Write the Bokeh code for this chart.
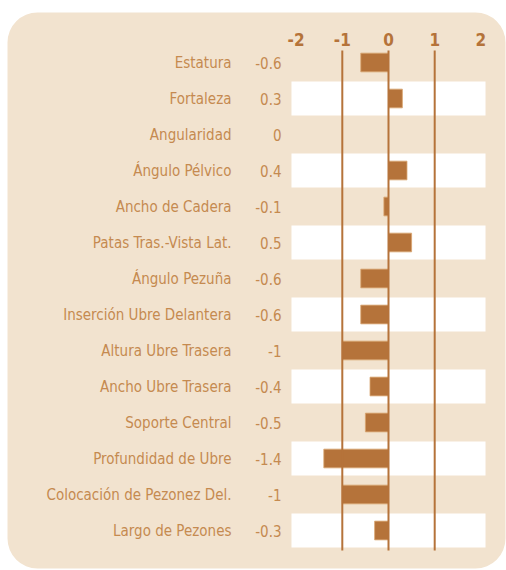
from bokeh.plotting import figure
from bokeh.models import Range1d, BoxAnnotation, ColumnDataSource
from bokeh.core.properties import value
from bokeh.embed import file_html
from bokeh.resources import INLINE

categories = ["Estatura", "Fortaleza", "Angularidad", "Ángulo Pélvico", "Ancho de Cadera",
              "Patas Tras.-Vista Lat.", "Ángulo Pezuña", "Inserción Ubre Delantera",
              "Altura Ubre Trasera", "Ancho Ubre Trasera", "Soporte Central",
              "Profundidad de Ubre", "Colocación de Pezonez Del.", "Largo de Pezones"]
values = [-0.6, 0.3, 0, 0.4, -0.1, 0.5, -0.6, -0.6, -1, -0.4, -0.5, -1.4, -1, -0.3]
value_labels = ["-0.6", "0.3", "0", "0.4", "-0.1", "0.5", "-0.6", "-0.6", "-1", "-0.4", "-0.5", "-1.4", "-1", "-0.3"]
ticks = [-2, -1, 0, 1, 2]
tick_labels = ["-2", "-1", "0", "1", "2"]
grid_lines = [-1, 0, 1]

BAR = "#B5733A"
TXT = "#C58A50"
BG = "#F2E3CF"
FONT = "DejaVu Sans Condensed, Roboto, sans-serif"

W, H = 506, 570
PX_UNIT = 46.2
X0 = 388.0
ROW0, PITCH = 62.0, 36.0

def xd(px):
    return (px - X0) / PX_UNIT

def yd(py):
    return (py - ROW0) / PITCH

p = figure(width=W, height=H, output_backend="svg", toolbar_location=None,
           x_range=Range1d(xd(0), xd(W)), y_range=Range1d(yd(H), yd(0)),
           min_border=0, outline_line_color=None,
           background_fill_color="white", border_fill_color="white")
p.axis.visible = False
p.grid.visible = False

panel = BoxAnnotation(left=xd(7), right=xd(505), top=yd(12), bottom=yd(568),
                      fill_color=BG, fill_alpha=1, line_color=None, border_radius=30,
                      level="underlay")
p.add_layout(panel)

n = len(categories)
rows = list(range(n))
stripe_rows = [i for i in rows if i % 2 == 1]
p.hbar(y=stripe_rows, left=-2.1, right=2.1, height=0.95, fill_color="white", line_color=None)

src = ColumnDataSource(dict(y=rows, v=values, cat=categories, lab=value_labels))
p.hbar(y="y", left=0, right="v", height=0.52, source=src, fill_color=BAR, line_color="#D9A46E", line_width=0.8)

p.segment(x0=grid_lines, x1=grid_lines, y0=[-0.333] * 3, y1=[13.556] * 3, line_color=BAR, line_width=2)

p.text(x=xd(231), y="y", text="cat", source=src, text_align="right", text_baseline="middle",
       text_font=value(FONT), text_font_size="15px", text_color=TXT)
p.text(x=xd(281), y="y", text="lab", source=src, text_align="right", text_baseline="middle",
       text_font=value(FONT), text_font_size="15px", text_color=TXT)

p.text(x=ticks, y=[yd(39)] * len(ticks), text=tick_labels, text_align="center", text_baseline="middle",
       text_font=value(FONT), text_font_style="bold", text_font_size="17px", text_color=BAR)

open("out.html", "w").write(file_html(p, INLINE))
